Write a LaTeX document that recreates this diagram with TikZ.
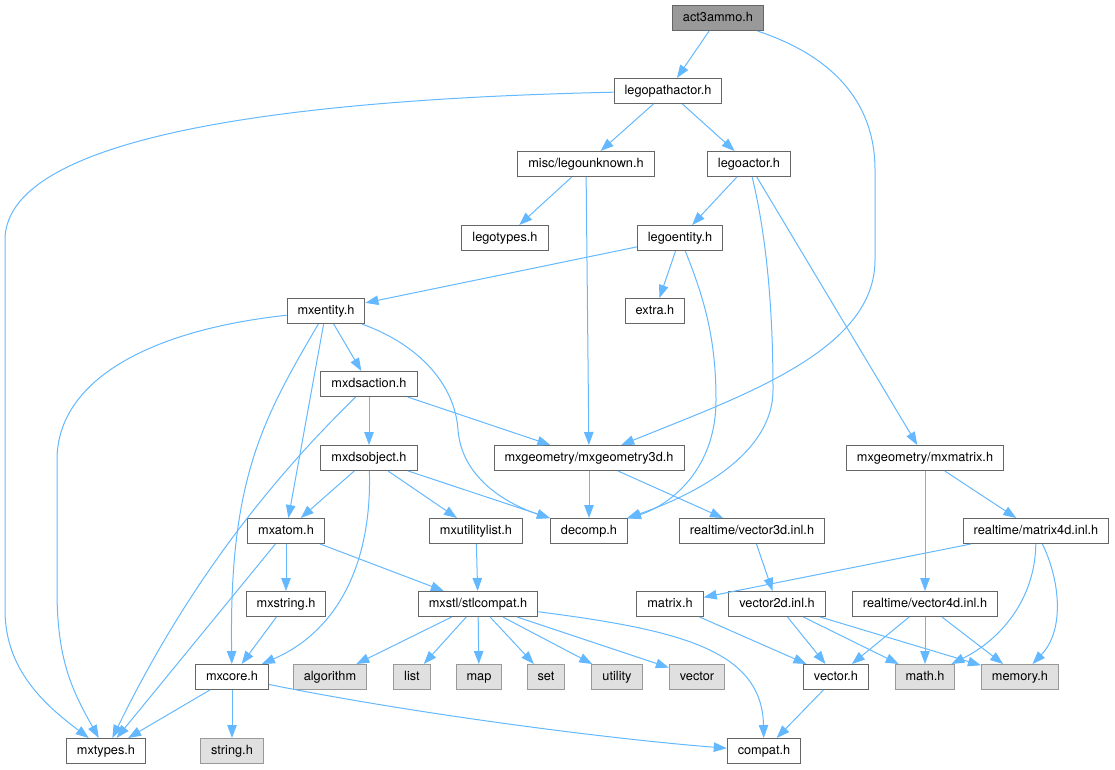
\documentclass[tikz,border=0pt]{standalone}
\usepackage{fontspec}
\setmainfont{TeX Gyre Heros}
\usetikzlibrary{arrows.meta}
\definecolor{edgeblue}{HTML}{63B8FF}
\definecolor{boxline}{HTML}{666666}
\definecolor{extfill}{HTML}{E0E0E0}
\definecolor{extline}{HTML}{999999}
\definecolor{rootfill}{HTML}{999999}

\begin{document}
\begin{tikzpicture}[x=1pt,y=-1pt,>={Triangle[length=13pt,width=9.5pt]}]
\tikzstyle{hfile}=[rectangle,draw=boxline,fill=white,line width=1pt,inner xsep=10.5pt,inner ysep=0pt,minimum height=25pt,text height=9.5pt,text depth=2.7pt,font=\fontsize{12.75}{15}\selectfont]
\tikzstyle{every node}=[hfile]
\tikzstyle{sysfile}=[draw=extline,fill=extfill]
\tikzstyle{rootfile}=[fill=rootfill]
\tikzstyle{dep}=[->,draw=edgeblue,line width=1pt]
\useasboundingbox (0,0) rectangle (1115,769);

\node[rootfile] (act3ammo) at (718,18) {act3ammo.h};
\node (legopathactor) at (668,91) {legopathactor.h};
\node (legounknown) at (586,164) {misc/legounknown.h};
\node (legoactor) at (749,164) {legoactor.h};
\node (legotypes) at (505,238) {legotypes.h};
\node (legoentity) at (680,238) {legoentity.h};
\node (extra) at (655,311) {extra.h};
\node (mxentity) at (326,311) {mxentity.h};
\node (mxdsaction) at (369,384) {mxdsaction.h};
\node (mxdsobject) at (369,458) {mxdsobject.h};
\node (mxgeometry) at (589,458) {mxgeometry/mxgeometry3d.h};
\node (mxmatrix) at (925,458) {mxgeometry/mxmatrix.h};
\node (mxatom) at (286,531) {mxatom.h};
\node (mxutilitylist) at (476,531) {mxutilitylist.h};
\node (decomp) at (589,531) {decomp.h};
\node (vectorthree) at (752,531) {realtime/vector3d.inl.h};
\node (matrixfour) at (1036,531) {realtime/matrix4d.inl.h};
\node (mxstring) at (286,604) {mxstring.h};
\node (stlcompat) at (478,604) {mxstl/stlcompat.h};
\node (matrix) at (670,604) {matrix.h};
\node (vectortwo) at (777,604) {vector2d.inl.h};
\node (vectorfour) at (925,604) {realtime/vector4d.inl.h};
\node (mxcore) at (232,677) {mxcore.h};
\node[sysfile] (algorithm) at (330,677) {algorithm};
\node[sysfile] (list) at (412,677) {list};
\node[sysfile] (map) at (479,677) {map};
\node[sysfile] (set) at (546,677) {set};
\node[sysfile] (utility) at (617,677) {utility};
\node[sysfile] (vector) at (697,677) {vector};
\node (vectorh) at (836,677) {vector.h};
\node[sysfile] (math) at (925,677) {math.h};
\node[sysfile] (memory) at (1020,677) {memory.h};
\node (mxtypes) at (106,751) {mxtypes.h};
\node[sysfile] (string) at (232,751) {string.h};
\node (compat) at (764,751) {compat.h};

\draw[dep] (act3ammo) -- (legopathactor);
\draw[dep] (act3ammo) .. controls (830,55) and (875,100) .. (875,170) -- (875,260) .. controls (875,350) and (745,395) .. (mxgeometry);
\draw[dep] (legopathactor) .. controls (350,98) and (5,125) .. (5,240) -- (5,610) .. controls (5,670) and (45,705) .. (mxtypes);
\draw[dep] (legopathactor) -- (legounknown);
\draw[dep] (legopathactor) -- (legoactor);
\draw[dep] (legounknown) -- (legotypes);
\draw[dep] (legounknown) -- (mxgeometry);
\draw[dep] (legoactor) -- (legoentity);
\draw[dep] (legoactor) -- (mxmatrix);
\draw[dep] (legoactor) .. controls (765,230) and (773,300) .. (773,390) .. controls (773,460) and (680,500) .. (decomp);
\draw[dep] (legoentity) -- (mxentity);
\draw[dep] (legoentity) -- (extra);
\draw[dep] (legoentity) .. controls (705,300) and (716,340) .. (716,400) .. controls (716,470) and (670,505) .. (decomp);
\draw[dep] (mxentity) .. controls (150,330) and (57,380) .. (57,460) -- (57,590) .. controls (57,660) and (72,690) .. (mxtypes);
\draw[dep] (mxentity) -- (mxdsaction);
\draw[dep] (mxentity) -- (mxatom);
\draw[dep] (mxentity) .. controls (262,420) and (229,480) .. (mxcore);
\draw[dep] (mxentity) .. controls (420,345) and (455,385) .. (458,430) .. controls (462,480) and (510,505) .. (decomp);
\draw[dep] (mxdsaction) -- (mxdsobject);
\draw[dep] (mxdsaction) -- (mxgeometry);
\draw[dep] (mxdsaction) .. controls (250,500) and (175,610) .. (mxtypes);
\draw[dep] (mxdsobject) -- (mxatom);
\draw[dep] (mxdsobject) -- (mxutilitylist);
\draw[dep] (mxdsobject) -- (decomp);
\draw[dep] (mxdsobject) .. controls (372,560) and (340,630) .. (mxcore);
\draw[dep] (mxgeometry) -- (decomp);
\draw[dep] (mxgeometry) -- (vectorthree);
\draw[dep] (mxmatrix) -- (vectorfour);
\draw[dep] (mxmatrix) -- (matrixfour);
\draw[dep] (mxatom) -- (mxstring);
\draw[dep] (mxatom) -- (stlcompat);
\draw[dep] (mxatom) -- (mxtypes);
\draw[dep] (mxutilitylist) -- (stlcompat);
\draw[dep] (vectorthree) -- (vectortwo);
\draw[dep] (matrixfour) -- (matrix);
\draw[dep] (matrixfour) .. controls (1035,600) and (1000,640) .. (math);
\draw[dep] (matrixfour) .. controls (1060,580) and (1065,630) .. (memory);
\draw[dep] (mxstring) -- (mxcore);
\draw[dep] (stlcompat) -- (algorithm);
\draw[dep] (stlcompat) -- (list);
\draw[dep] (stlcompat) -- (map);
\draw[dep] (stlcompat) -- (set);
\draw[dep] (stlcompat) -- (utility);
\draw[dep] (stlcompat) -- (vector);
\draw[dep] (stlcompat) .. controls (680,630) and (762,650) .. (compat);
\draw[dep] (matrix) -- (vectorh);
\draw[dep] (vectortwo) -- (vectorh);
\draw[dep] (vectortwo) -- (math);
\draw[dep] (vectortwo) -- (memory);
\draw[dep] (vectorfour) -- (vectorh);
\draw[dep] (vectorfour) -- (math);
\draw[dep] (vectorfour) -- (memory);
\draw[dep] (mxcore) -- (mxtypes);
\draw[dep] (mxcore) -- (string);
\draw[dep] (mxcore) .. controls (420,715) and (620,740) .. (compat);
\draw[dep] (vectorh) -- (compat);
\end{tikzpicture}
\end{document}
